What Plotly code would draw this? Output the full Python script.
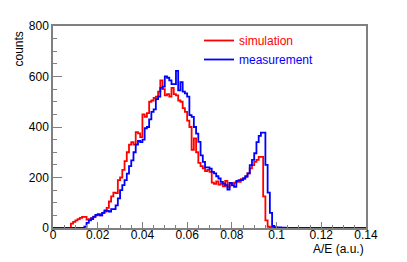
import numpy as np
import plotly.graph_objects as go

# Histogram binning: 140 bins of width 0.001 between 0 and 0.14
bin_width = 0.001
n_bins = 140

# simulation counts, bins 0..139
simulation = [0]*8 + [
    17, 24, 30, 35, 40, 44, 44, 33, 35, 40,          # 8-17
    45, 50, 52, 50, 60, 65, 80, 105, 125, 140,       # 18-27
    138, 190, 200, 230, 265, 300, 330, 340, 330, 380,  # 28-37
    375, 360, 450, 440, 455, 500, 505, 515, 520, 540,  # 38-47
    585, 550, 525, 530, 520, 555, 530, 525, 505, 500,  # 48-57
    475, 460, 425, 400, 310, 355, 300, 258, 245, 236,  # 58-67
    225, 230, 222, 180, 175, 185, 172, 176, 165, 187,  # 68-77
    163, 179, 175, 180, 183, 183, 193, 196, 203, 216,  # 78-87
    236, 249, 262, 270, 282, 282, 125, 30, 5, 1,       # 88-97
] + [0]*42

# measurement counts, bins 0..139
measurement = [0]*14 + [
    5, 20, 30, 35, 44, 52,                             # 14-19
    55, 50, 60, 70, 68, 65, 75, 75, 90, 117,           # 20-29
    150, 170, 190, 215, 245, 268, 300, 330, 345, 340,  # 30-39
    350, 395, 400, 430, 460, 470, 510, 520, 555, 560,  # 40-49
    600, 595, 585, 570, 570, 622, 545, 578, 540, 533,  # 50-59
    520, 447, 440, 400, 374, 341, 288, 262, 240, 240,  # 60-69
    235, 222, 216, 205, 196, 183, 176, 170, 152, 179,  # 70-79
    169, 163, 187, 190, 190, 196, 205, 216, 249, 270,  # 80-89
    296, 340, 365, 378, 378, 250, 140, 60, 8, 3,       # 90-99
    2, 2, 1, 1,                                        # 100-103
] + [0]*36

edges = np.arange(n_bins + 1) * bin_width


def step_xy(counts):
    xs = list(edges)
    ys = list(counts) + [counts[-1]]
    return xs, ys


xs_s, ys_s = step_xy(simulation)
xs_m, ys_m = step_xy(measurement)

fig = go.Figure()
fig.add_trace(go.Scatter(
    x=xs_s, y=ys_s, mode="lines", line=dict(color="#ff0000", width=1.8, shape="hv"),
    name='<span style="color:#ff0000">simulation</span>', legendrank=1,
))
fig.add_trace(go.Scatter(
    x=xs_m, y=ys_m, mode="lines", line=dict(color="#0000ff", width=1.8, shape="hv"),
    name='<span style="color:#0000ff">measurement</span>', legendrank=2,
))

font = "Liberation Sans, Arial, Helvetica, sans-serif"

fig.update_layout(
    width=407, height=262,
    margin=dict(l=53, r=41, t=26, b=34),
    paper_bgcolor="white", plot_bgcolor="white",
    font=dict(family=font, size=12, color="black"),
    showlegend=True,
    legend=dict(
        x=(199 - 53) / 313, y=(228 - 26) / 202, xanchor="left", yanchor="top",
        bgcolor="rgba(0,0,0,0)", borderwidth=0, font=dict(size=12, family=font),
        tracegroupgap=0, itemwidth=30,
    ),
    xaxis=dict(
        range=[0, 0.14], showgrid=False, zeroline=False,
        showline=True, linecolor="#808080", linewidth=1.5, mirror=True,
        ticks="inside", ticklen=6, tickcolor="#808080", tickwidth=1,
        dtick=0.02, tick0=0, ticklabelstandoff=-5,
        minor=dict(dtick=0.005, ticks="inside", ticklen=3, tickcolor="#808080"),
        tickfont=dict(size=12, family=font),
    ),
    yaxis=dict(
        range=[0, 800], showgrid=False, zeroline=False,
        showline=True, linecolor="#808080", linewidth=1.5, mirror=True,
        ticks="inside", ticklen=9, tickcolor="#808080", tickwidth=1,
        dtick=200, tick0=0,
        minor=dict(dtick=50, ticks="inside", ticklen=4.5, tickcolor="#808080"),
        tickfont=dict(size=12, family=font),
    ),
    annotations=[
        dict(text="counts", xref="paper", yref="paper", x=(18 - 53) / 313, y=1.0 - 4 / 202,
             xanchor="center", yanchor="top", textangle=-90, showarrow=False,
             font=dict(size=12, family=font)),
        dict(text="A/E (a.u.)", xref="paper", yref="paper", x=1.0, y=(228 - 249) / 202,
             xanchor="right", yanchor="middle", showarrow=False,
             font=dict(size=12, family=font)),
    ],
)

fig.write_html(
    "out.html",
    config={"displayModeBar": False},
    post_script="document.body.style.margin='0';document.body.style.padding='0';",
)
